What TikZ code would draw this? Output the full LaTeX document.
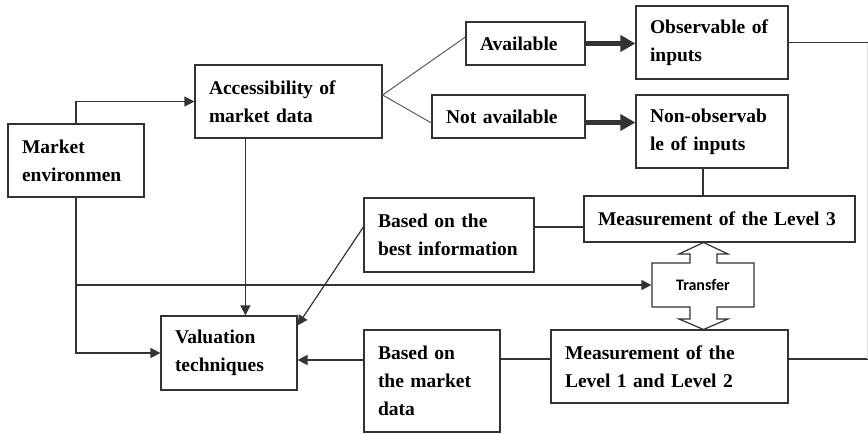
\documentclass[tikz,border=0pt]{standalone}
\usepackage{fontspec}
\setmainfont{Liberation Serif}
\newfontfamily\trfont{Carlito}
\usetikzlibrary{arrows.meta,calc}
\definecolor{ln}{HTML}{333333}
\begin{document}
\begin{tikzpicture}[x=1pt,y=-1pt,line width=1.2pt,
  c/.style={draw=ln},
  bx/.style n args={2}{draw=ln,line width=1.2pt,minimum width=#1,minimum height=#2,
     text width=#1-28pt,inner xsep=14pt,inner ysep=0pt,align=left,
     font=\fontsize{19.5}{28}\selectfont\bfseries},
  arr/.style={draw=ln,-{Triangle[length=10pt,width=10pt]}},
  thick arr/.style={draw=ln,-{Triangle[length=15pt,width=16pt]},line width=4.5pt},
  thin/.style={line width=1pt,draw=ln!80}]
\useasboundingbox (0,0) rectangle (868,434);
% boxes
\node[bx={136}{73}] (me) at (76,160.5) {Market\\environmen};
\node[bx={187}{73}] (acc) at (288.5,101.5) {Accessibility of\\market data};
\node[bx={119}{43}] (av) at (525.5,43.5) {Available};
\node[bx={153}{43}] (na) at (508.5,116.5) {Not available};
\node[bx={152}{73}] (obs) at (712,42.5) {Observable of\\inputs};
\node[bx={152}{73}] (nobs) at (712,131.5) {Non-observab\\le of inputs};
\node[bx={170}{74}] (bbi) at (449,235) {Based on the\\best information};
\node[bx={271}{46}] (l3) at (719.5,219) {Measurement of the Level 3};
\node[bx={136}{74}] (val) at (229,353) {Valuation\\techniques};
\node[bx={136}{102}] (bmd) at (432,381) {Based on\\the market\\data};
\node[bx={237}{73}] (l12) at (669.5,366.5) {Measurement of the\\Level 1 and Level 2};
% transfer double arrow
\draw[c] (652,263) -- (690,263) -- (690,254) -- (679,254) -- (703.5,242.5)
  -- (728,254) -- (717,254) -- (717,263) -- (754,263) -- (754,307) -- (717,307)
  -- (717,319) -- (728,319) -- (703.5,329.5) -- (679,319) -- (690,319) -- (690,307)
  -- (652,307) -- cycle;
\node[minimum width=102pt,minimum height=44pt,inner sep=0pt,font=\trfont\bfseries\fontsize{16}{18}\selectfont] (tr) at (703,285) {Transfer};
% connectors
\draw[arr] (me.north) |- (acc.west);
\draw[arr] (me.south) |- (val.west);
\draw[arr] (me.south |- tr.west) -- (tr.west);
\draw[arr] ([xshift=51pt]acc.south west) -- ([xshift=51pt]acc.south west |- val.north);
\draw[thin] ([yshift=6.5pt]acc.east) -- ([yshift=6.5pt]av.west);
\draw[thin] ([yshift=6.5pt]acc.east) -- ([yshift=-6.5pt]na.west);
\draw[thick arr] (av.east) -- (av.east -| obs.west);
\draw[thick arr] ([yshift=-6pt]na.east) -- ([yshift=-6pt]na.east -| nobs.west);
\draw[c] ([xshift=-9pt]nobs.south) -- ([xshift=-9pt]nobs.south |- l3.north);
\draw[c] ([yshift=8pt]bbi.east) -- ([yshift=8pt]bbi.east -| l3.west);
\draw[arr] ([yshift=8pt]bbi.west) -- ([yshift=-10pt]val.north east);
\draw[arr] ([yshift=21pt]bmd.west) -- ([yshift=21pt]bmd.west -| val.east);
\draw[c] ([yshift=22pt]bmd.east) -- ([yshift=22pt]bmd.east -| l12.west);
\coordinate (rt) at (867.5,42.5);
\coordinate (rb) at (867.5,359);
\draw[c] (obs.east) -- (rt);
\draw[c] ([yshift=7.5pt]l12.east) -- (rb);
\draw[line width=0.5pt,draw=ln!15] (rt) -- (rb);
\end{tikzpicture}
\end{document}
